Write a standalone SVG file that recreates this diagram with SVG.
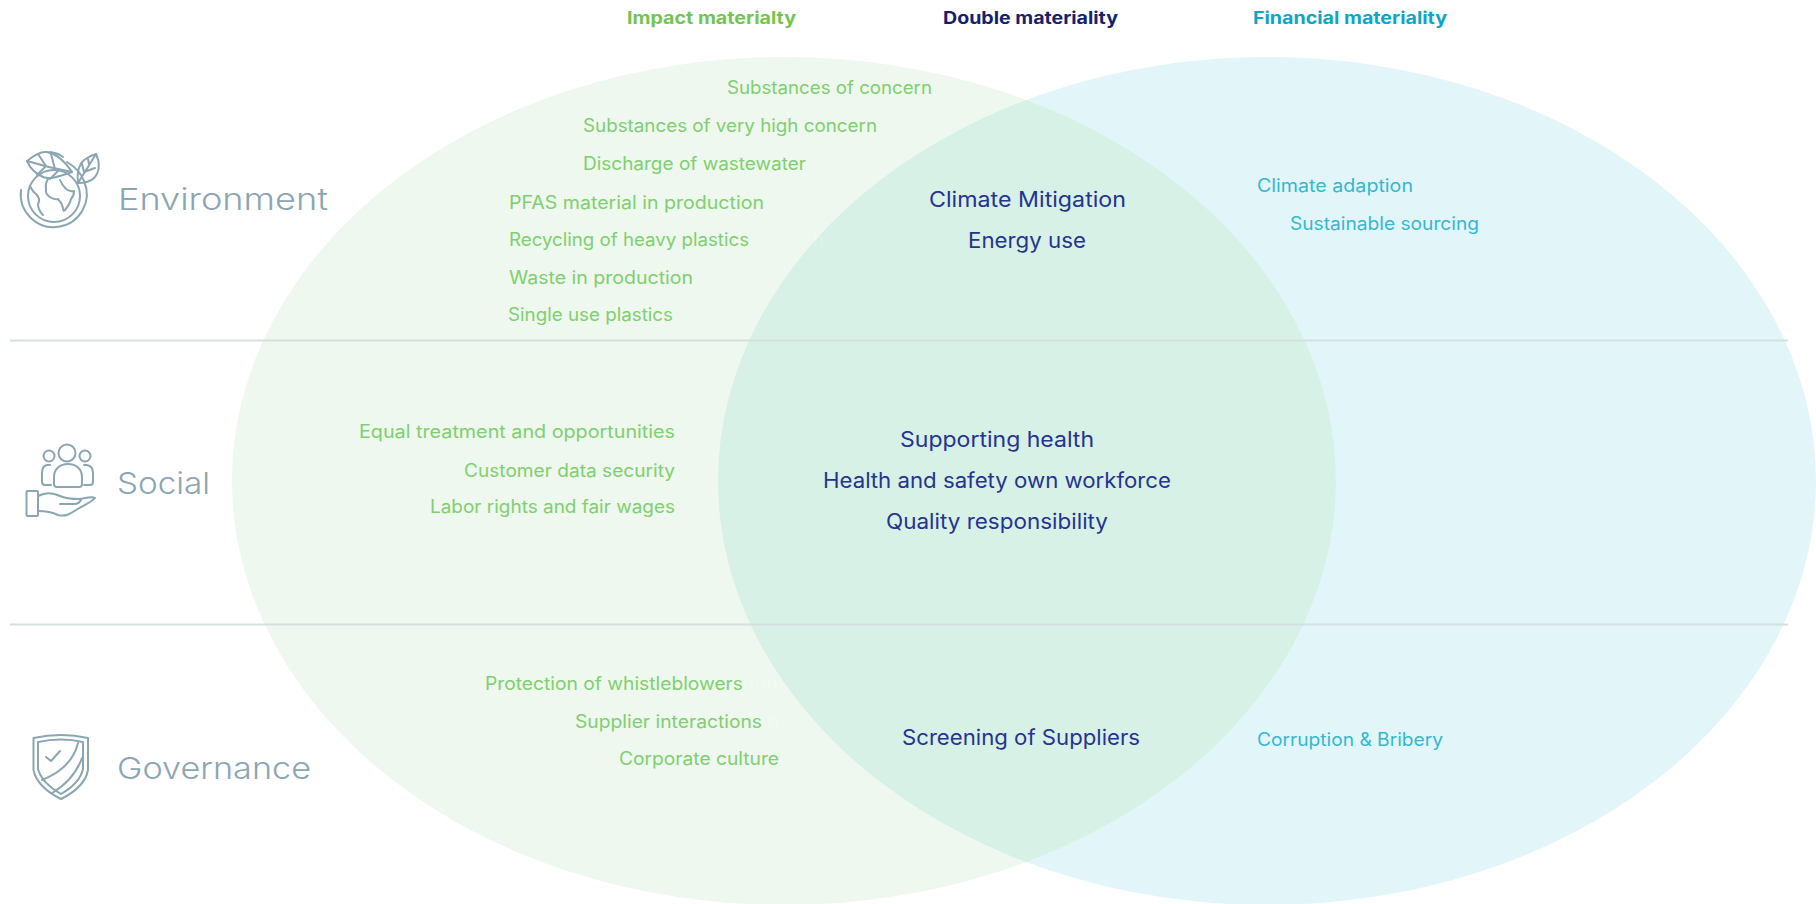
<svg xmlns="http://www.w3.org/2000/svg" width="1816" height="904" viewBox="0 0 1816 904">
<style>
text{font-family:Inter,"Open Sans","Liberation Sans",sans-serif;font-weight:400}
.hd{font-size:17px;font-weight:700}
.g{font-size:18px;fill:#80cf70}
.n{font-size:21px;fill:#26338f}
.t{font-size:18px;fill:#35b8d0}
.cat{font-size:30px;fill:#8ba6b2;font-weight:300}
.ghost{font-size:18px;fill:#fff;fill-opacity:.25}
.ic{fill:none;stroke:#8ba6b2;stroke-width:2;stroke-linecap:round;stroke-linejoin:round}
.div{stroke:#d5dfe0;stroke-width:2}
</style>
<defs><clipPath id="lc"><ellipse cx="784" cy="481" rx="552" ry="424"/></clipPath></defs>
<rect width="1816" height="904" fill="#fff"/>
<g id="venn">
<ellipse id="financial-set" cx="1267" cy="481" rx="549" ry="424" fill="#e2f6f9"/>
<ellipse id="impact-set" cx="784" cy="481" rx="552" ry="424" fill="#eef8ee"/>
<ellipse id="double-set" cx="1267" cy="481" rx="549" ry="424" fill="#d7f1e7" clip-path="url(#lc)"/>
</g>
<g id="connectors">
<line class="div" x1="10" y1="340.500" x2="1788" y2="340.500"/>
<line class="div" x1="10" y1="624.500" x2="1788" y2="624.500"/>
</g>
<g id="headers">
<text class="hd" x="627" y="24" fill="#74c452" textLength="169" lengthAdjust="spacingAndGlyphs">Impact materialty</text>
<text class="hd" x="943" y="24" fill="#14226e" textLength="175" lengthAdjust="spacingAndGlyphs">Double materiality</text>
<text class="hd" x="1253" y="24" fill="#0ca7c4" textLength="194" lengthAdjust="spacingAndGlyphs">Financial materiality</text>
</g>
<g id="environment">
<g class="ic">
<circle cx="54" cy="196" r="26"/>
<path d="M21 190A33 33 0 1 0 84 181Q80 170 67 162"/>
<path d="M50 152Q58 153 63 157"/>
<path d="M72 172C60 176 50 180 43 177C36 174 30 168 27 161C33 156 40 151 47 152C58 154 66 163 72 172Z"/>
<path d="M27 161Q50 168 72 172M38 154L46 166M51 154L55 169M37 175L46 166M50 179L58 171"/>
<path d="M78 183C77 174 78 165 84 160C88 157 92 155 96 154C100 162 100 172 94 178C90 182 84 183 78 183Z"/>
<path d="M78 183Q86 170 96 154M84 172L82 164M84 172L95 168M89 164L88 159"/>
<path d="M48 179Q45 184 46 189Q45 194 50 197Q54 200 58 199Q62 203 63 208Q63 212 65 210Q70 204 71 199Q74 196 74 191Q70 192 66 189Q62 185 60 180"/>
<path d="M30 186Q33 192 36 194Q41 199 38 204Q38 210 43 215"/>
</g>
<text class="cat" x="118" y="210" textLength="210" lengthAdjust="spacingAndGlyphs">Environment</text>
</g>
<g id="social">
<g class="ic">
<circle cx="67" cy="453" r="8.500"/>
<circle cx="49" cy="456" r="5.500"/>
<circle cx="85" cy="456" r="5.500"/>
<path d="M54 484V477C54 469 60 464 68 464C76 464 82 469 82 477V484Q82 487 79 487H57Q54 487 54 484Z"/>
<path d="M50 465H47Q42 466 42 473V482Q42 485 45 485H51"/>
<path d="M84 465H87Q93 466 93 473V482Q93 485 90 485H84"/>
<rect x="26.500" y="491" width="11.500" height="25" rx="1"/>
<path d="M38 496C46 492 54 493 60 496C66 499 74 499 80 499C86 498 92 496 95 498C92 502 84 505 76 510C70 514 65 517 58 515C52 512 45 511 38 511"/>
<path d="M60 504H74Q79 504 81 500"/>
</g>
<text class="cat" x="117" y="494" textLength="93" lengthAdjust="spacingAndGlyphs">Social</text>
</g>
<g id="governance">
<g class="ic">
<path d="M33.500 738Q61 732 88 738V770Q85 787 61 799Q37 787 33.500 770Z"/>
<path d="M38 742Q61 737 83 742V769Q80 783 61 794Q42 783 38 769Z"/>
<path d="M46 757L51 761L60 751"/>
<path d="M78 743Q72 768 42 780"/>
<path d="M82 758Q74 780 52 793"/>
</g>
<text class="cat" x="117" y="779" textLength="194" lengthAdjust="spacingAndGlyphs">Governance</text>
</g>
<g id="impact-items">
<text class="g" x="727" y="94" textLength="205" lengthAdjust="spacingAndGlyphs">Substances of concern</text>
<text class="g" x="583" y="132" textLength="294" lengthAdjust="spacingAndGlyphs">Substances of very high concern</text>
<text class="g" x="583" y="170" textLength="223" lengthAdjust="spacingAndGlyphs">Discharge of wastewater</text>
<text class="g" x="509" y="209" textLength="255" lengthAdjust="spacingAndGlyphs">PFAS material in production</text>
<text class="g" x="509" y="246" textLength="240" lengthAdjust="spacingAndGlyphs">Recycling of heavy plastics</text>
<text class="ghost" x="813" y="246">h</text>
<text class="g" x="509" y="284" textLength="184" lengthAdjust="spacingAndGlyphs">Waste in production</text>
<text class="g" x="508" y="321" textLength="165" lengthAdjust="spacingAndGlyphs">Single use plastics</text>
<text class="g" x="359" y="438" textLength="316" lengthAdjust="spacingAndGlyphs">Equal treatment and opportunities</text>
<text class="g" x="464" y="476.500" textLength="211" lengthAdjust="spacingAndGlyphs">Customer data security</text>
<text class="g" x="430" y="513" textLength="245" lengthAdjust="spacingAndGlyphs">Labor rights and fair wages</text>
<text class="g" x="485" y="689.500" textLength="258" lengthAdjust="spacingAndGlyphs">Protection of whistleblowers</text>
<text class="ghost" x="743" y="689.500" textLength="35" lengthAdjust="spacingAndGlyphs">hhh</text>
<text class="g" x="575" y="727.500" textLength="187" lengthAdjust="spacingAndGlyphs">Supplier interactions</text>
<text class="ghost" x="768" y="727.500">h</text>
<text class="g" x="619" y="764.500" textLength="160" lengthAdjust="spacingAndGlyphs">Corporate culture</text>
</g>
<g id="double-items">
<text class="n" x="929" y="207" textLength="197" lengthAdjust="spacingAndGlyphs">Climate Mitigation</text>
<text class="n" x="968" y="248" textLength="118" lengthAdjust="spacingAndGlyphs">Energy use</text>
<text class="n" x="900" y="447" textLength="194" lengthAdjust="spacingAndGlyphs">Supporting health</text>
<text class="n" x="823" y="488" textLength="348" lengthAdjust="spacingAndGlyphs">Health and safety own workforce</text>
<text class="n" x="886" y="529" textLength="222" lengthAdjust="spacingAndGlyphs">Quality responsibility</text>
<text class="n" x="902" y="745" textLength="238" lengthAdjust="spacingAndGlyphs">Screening of Suppliers</text>
</g>
<g id="financial-items">
<text class="t" x="1257" y="192" textLength="156" lengthAdjust="spacingAndGlyphs">Climate adaption</text>
<text class="t" x="1290" y="230" textLength="189" lengthAdjust="spacingAndGlyphs">Sustainable sourcing</text>
<text class="t" x="1257" y="746" textLength="186" lengthAdjust="spacingAndGlyphs">Corruption &amp; Bribery</text>
</g>
</svg>
